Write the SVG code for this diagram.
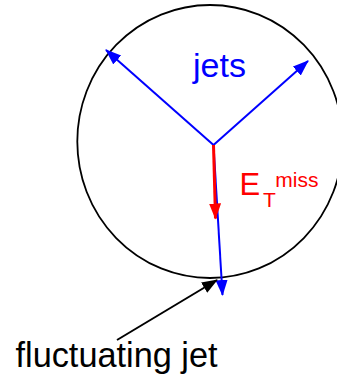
<svg xmlns="http://www.w3.org/2000/svg" width="337" height="378" viewBox="0 0 337 378">
  <style>
    .lbl { font-family: "Liberation Sans", Arial, sans-serif; }
    .blue { stroke: #0000ff; stroke-width: 2; fill: none; }
    .red { stroke: #ff0000; stroke-width: 3; fill: none; }
    .black { stroke: #000000; stroke-width: 2; fill: none; }
  </style>
  <defs>
    <marker id="ahBlue" markerUnits="userSpaceOnUse" markerWidth="17" markerHeight="13" refX="15" refY="6" orient="auto">
      <path d="M0,0 L16,6 L0,12 z" fill="#0000ff"/>
    </marker>
    <marker id="ahRed" markerUnits="userSpaceOnUse" markerWidth="17" markerHeight="13" refX="15" refY="6" orient="auto">
      <path d="M0,0 L16,6 L0,12 z" fill="#ff0000"/>
    </marker>
    <marker id="ahBlack" markerUnits="userSpaceOnUse" markerWidth="17" markerHeight="13" refX="15" refY="6" orient="auto">
      <path d="M0,0 L16,6 L0,12 z" fill="#000000"/>
    </marker>
  </defs>
  <rect width="337" height="378" fill="#ffffff"/>
  <g id="event">
    <ellipse cx="210" cy="141.5" rx="132.7" ry="136.5" fill="none" stroke="#000000" stroke-width="1.8"/>
  </g>
  <g id="connectors">
    <line class="blue" x1="213.5" y1="145" x2="106" y2="50" marker-end="url(#ahBlue)"/>
    <line class="blue" x1="213.5" y1="145" x2="308" y2="61" marker-end="url(#ahBlue)"/>
    <line class="blue" x1="213.5" y1="145" x2="222.5" y2="295" marker-end="url(#ahBlue)"/>
    <line class="red" x1="213.5" y1="145" x2="215.5" y2="218.5" marker-end="url(#ahRed)"/>
    <line class="black" x1="117" y1="340" x2="217" y2="280" marker-end="url(#ahBlack)"/>
  </g>
  <g id="jets-label">
    <text class="lbl" x="193" y="77" font-size="34" fill="#0000ff">jets</text>
  </g>
  <g id="etmiss-label">
    <text class="lbl" x="239.5" y="195" font-size="31" fill="#ff0000">E</text>
    <text class="lbl" x="263" y="206.7" font-size="21" fill="#ff0000">T</text>
    <text class="lbl" x="275.3" y="186.7" font-size="21" fill="#ff0000">miss</text>
  </g>
  <g id="fluct-label">
    <text class="lbl" x="15.5" y="366.7" font-size="34.3" fill="#000000">fluctuating jet</text>
  </g>
</svg>
